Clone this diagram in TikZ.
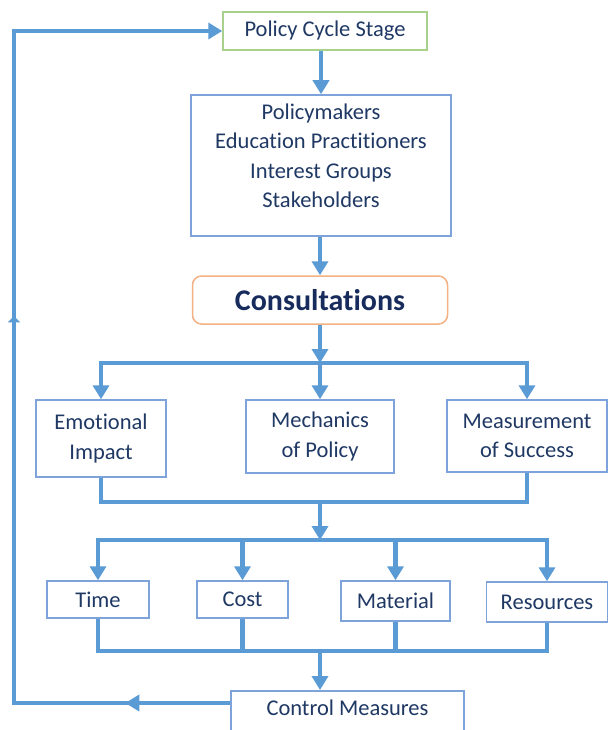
\documentclass[tikz,border=0pt]{standalone}
\usepackage{fontspec}
\setmainfont{Carlito}[Ligatures=NoCommon]
\usetikzlibrary{arrows.meta,calc,decorations.markings}
\definecolor{linkblue}{HTML}{5B9BD5}
\definecolor{edgeblue}{HTML}{7EA3DB}
\definecolor{navy}{HTML}{1F3864}
\definecolor{deepnavy}{HTML}{172C5C}
\definecolor{leafgreen}{HTML}{A9D18E}
\definecolor{peach}{HTML}{F4B183}
\begin{document}
\begin{tikzpicture}[x=1pt,y=-1pt,
  tip/.tip={Triangle[width=16pt,length=14pt]},
  smalltip/.tip={Triangle[width=12pt,length=6pt]},
  conn/.style={draw=linkblue,line width=4.8pt,line join=miter},
  box/.style={draw=edgeblue,line width=1.5pt,fill=white,text=navy,
    font=\fontsize{22.5}{29.5}\selectfont,align=center,inner sep=0pt},
  label/.style={text=navy,font=\fontsize{22.5}{29.5}\selectfont,align=center,inner sep=0pt}]
\useasboundingbox (0,0) rectangle (609,730);
\fill[white] (0,0) rectangle (609,730);

% top of the cycle
\node[box,draw=leafgreen,minimum width=204,minimum height=38] (pcs) at (325,31) {Policy Cycle Stage};
\node[box,minimum width=260,minimum height=141] (stake) at (321,165.5) {};
\node[label] (stakeText) at (321,156) {Policymakers\\Education Practitioners\\Interest Groups\\Stakeholders};
\node[box,draw=peach,rounded corners=9pt,minimum width=255,minimum height=48,
  text=deepnavy,font=\fontsize{30}{36}\selectfont\bfseries] (cons) at (320,300) {Consultations};

% consultation themes
\node[box,minimum width=130,minimum height=77] (emo) at (101,438.5) {Emotional\\Impact};
\node[box,minimum width=148,minimum height=73] (mech) at (320,436.5) {Mechanics\\of Policy};
\node[box,minimum width=160,minimum height=72] (meas) at (527,436) {Measurement\\of Success};

% practical factors
\node[box,minimum width=102,minimum height=37] (time) at (98,599.5) {Time};
\node[box,minimum width=91,minimum height=37] (cost) at (242.5,599.5) {Cost};
\node[box,minimum width=109,minimum height=40] (mat) at (395.5,601) {Material};
\node[box,minimum width=121,minimum height=40] (res) at (547,602) {Resources};

% control stage, open at the lower edge
\node[box,anchor=north,minimum width=233,inner ysep=9pt,text height=15.5pt,text depth=40pt] (ctrl) at (347.5,690) {Control Measures};

% bus junctions
\coordinate (b1) at (320,363);
\coordinate (b2) at (320,502);
\coordinate (b3) at (320,540);
\coordinate (b4) at (320,651);
\coordinate (rail) at (14,0);

% main spine
\draw[conn,-{tip}] (pcs.south -| stake.north) -- (stake.north);
\draw[conn,-{tip}] (stake.south -| cons.south) -- (cons.north);
\draw[conn,-{tip}] (cons.south) -- (b1);

% fan out to the themes
\draw[conn,{tip}-{tip}] (emo.north) -- (emo.north |- b1) -- (meas.north |- b1) -- (meas.north);
\draw[conn,-{tip}] (b1) -- (mech.north);

% themes gathered
\draw[conn] (emo.south) -- (emo.south |- b2) -- (meas.south |- b2) -- (meas.south);
\draw[conn,-{tip}] (b2) -- (b3);

% fan out to the factors
\draw[conn,{tip}-{tip}] (time.north) -- (time.north |- b3) -- (res.north |- b3) -- (res.north);
\draw[conn,-{tip}] (cost.north |- b3) -- (cost.north);
\draw[conn,-{tip}] (mat.north |- b3) -- (mat.north);

% factors gathered
\draw[conn] (time.south) -- (time.south |- b4) -- (res.south |- b4) -- (res.south);
\draw[conn] (cost.south) -- (cost.south |- b4);
\draw[conn] (mat.south) -- (mat.south |- b4);
\draw[conn,-{tip}] (b4) -- (b4 |- ctrl.north);

% feedback loop back to the policy cycle
\coordinate (fb0) at ($(ctrl.north west)+(0,13)$);
\draw[conn,-{tip},postaction={decorate},
  decoration={markings,
    mark=at position 105pt with {\arrow{tip}},
    mark=at position 603pt with {\arrow{smalltip}}}]
  (fb0) -- (fb0 -| rail) -- (rail |- pcs.west) -- (pcs.west);
\end{tikzpicture}
\end{document}
